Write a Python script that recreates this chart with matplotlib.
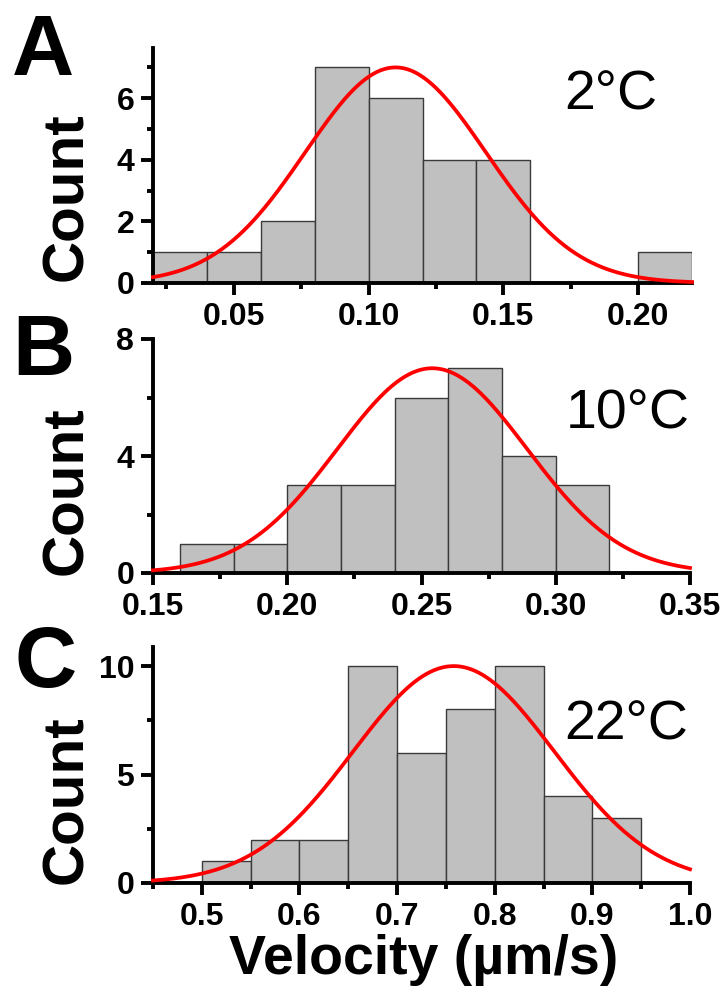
import numpy as np
import matplotlib
matplotlib.use('Agg')
import matplotlib.pyplot as plt
from matplotlib.ticker import MultipleLocator, FormatStrFormatter

plt.rcParams['font.family'] = ['Liberation Sans', 'DejaVu Sans']
plt.rcParams['font.weight'] = 'bold'

# ---------------- data ----------------
# Panel A: 2°C
a_edges = [0.02, 0.04, 0.06, 0.08, 0.10, 0.12, 0.14, 0.16, 0.18, 0.20, 0.22]
a_counts = [1, 1, 2, 7, 6, 4, 4, 0, 0, 1]
a_fit_center, a_fit_sigma, a_fit_amp = 0.110, 0.0335, 7.0
a_xticks = [0.05, 0.10, 0.15, 0.20]
a_yticks = [0, 2, 4, 6]

# Panel B: 10°C
b_edges = [0.16, 0.18, 0.20, 0.22, 0.24, 0.26, 0.28, 0.30, 0.32]
b_counts = [1, 1, 3, 3, 6, 7, 4, 3]
b_fit_center, b_fit_sigma, b_fit_amp = 0.254, 0.0353, 7.0
b_xticks = [0.15, 0.20, 0.25, 0.30, 0.35]
b_yticks = [0, 4, 8]

# Panel C: 22°C
c_edges = [0.50, 0.55, 0.60, 0.65, 0.70, 0.75, 0.80, 0.85, 0.90, 0.95]
c_counts = [1, 2, 2, 10, 6, 8, 10, 4, 3]
c_fit_center, c_fit_sigma, c_fit_amp = 0.758, 0.103, 10.0
c_xticks = [0.5, 0.6, 0.7, 0.8, 0.9, 1.0]
c_yticks = [0, 5, 10]

panel_letters = ['A', 'B', 'C']
temps = ['2°C', '10°C', '22°C']
xlabel = 'Velocity (µm/s)'
ylabel = 'Count'

W, H = 724, 990
fig = plt.figure(figsize=(W / 100, H / 100), dpi=100)


def px_rect(x0, x1, ytop, ybot):
    return [x0 / W, 1 - ybot / H, (x1 - x0) / W, (ybot - ytop) / H]


panels = [
    dict(edges=a_edges, counts=a_counts, fit=(a_fit_center, a_fit_sigma, a_fit_amp),
         xticks=a_xticks, yticks=a_yticks, xlim=(0.02, 0.22), ylim=(0, 7.63),
         xminor=0.025, yminor=1, fmt='%.2f', rect=px_rect(153, 692, 48, 283)),
    dict(edges=b_edges, counts=b_counts, fit=(b_fit_center, b_fit_sigma, b_fit_amp),
         xticks=b_xticks, yticks=b_yticks, xlim=(0.15, 0.35), ylim=(0, 8),
         xminor=0.025, yminor=2, fmt='%.2f', rect=px_rect(153, 690, 339, 573)),
    dict(edges=c_edges, counts=c_counts, fit=(c_fit_center, c_fit_sigma, c_fit_amp),
         xticks=c_xticks, yticks=c_yticks, xlim=(0.45, 1.0), ylim=(0, 10.88),
         xminor=0.05, yminor=2.5, fmt='%.1f', rect=px_rect(153, 690, 647, 883)),
]

letter_pos = [(12, 75), (12, 375), (14, 687)]
count_pos = [(67, 197), (67, 491), (67, 800)]
temp_pos = [(564, 95), (566, 415), (564, 726)]

for i, p in enumerate(panels):
    ax = fig.add_axes(p['rect'])
    edges = np.array(p['edges'])
    counts = np.array(p['counts'])
    ax.bar(edges[:-1], counts, width=np.diff(edges), align='edge',
           color='#c0c0c0', edgecolor='#3a3a3a', linewidth=1.0, zorder=2)
    mu, sg, amp = p['fit']
    xs = np.linspace(p['xlim'][0], p['xlim'][1], 400)
    ax.plot(xs, amp * np.exp(-(xs - mu) ** 2 / (2 * sg ** 2)),
            color='#ff0000', lw=2.7, zorder=3, clip_on=False)
    ax.set_xlim(*p['xlim'])
    ax.set_ylim(*p['ylim'])
    ax.set_xticks(p['xticks'])
    ax.set_yticks(p['yticks'])
    ax.xaxis.set_minor_locator(MultipleLocator(p['xminor']))
    ax.yaxis.set_minor_locator(MultipleLocator(p['yminor']))
    ax.xaxis.set_major_formatter(FormatStrFormatter(p['fmt']))
    for s in ['top', 'right']:
        ax.spines[s].set_visible(False)
    for s in ['left', 'bottom']:
        ax.spines[s].set_linewidth(2.8)
        ax.spines[s].set_color('black')
    ax.tick_params(which='major', direction='out', length=8.5, width=2.8,
                   labelsize=23, pad=5)
    ax.tick_params(which='minor', direction='out', length=4.5, width=2.8)
    for lbl in ax.get_xticklabels() + ax.get_yticklabels():
        lbl.set_fontweight('bold')

    lx, ly = letter_pos[i]
    fig.text(lx / W, 1 - ly / H, panel_letters[i], fontsize=62,
             fontweight='bold', ha='left', va='baseline')
    cx, cy = count_pos[i]
    fig.text(cx / W, 1 - cy / H, ylabel, fontsize=42, fontweight='bold',
             rotation=90, ha='center', va='center')
    tx, ty = temp_pos[i]
    fig.text(tx / W, 1 - ty / H, temps[i], fontsize=40, fontweight='normal',
             ha='left', va='center')

fig.text(424 / W, 1 - 960 / H, xlabel, fontsize=40, fontweight='bold',
         ha='center', va='center')

fig.savefig('out.png', dpi=100)
